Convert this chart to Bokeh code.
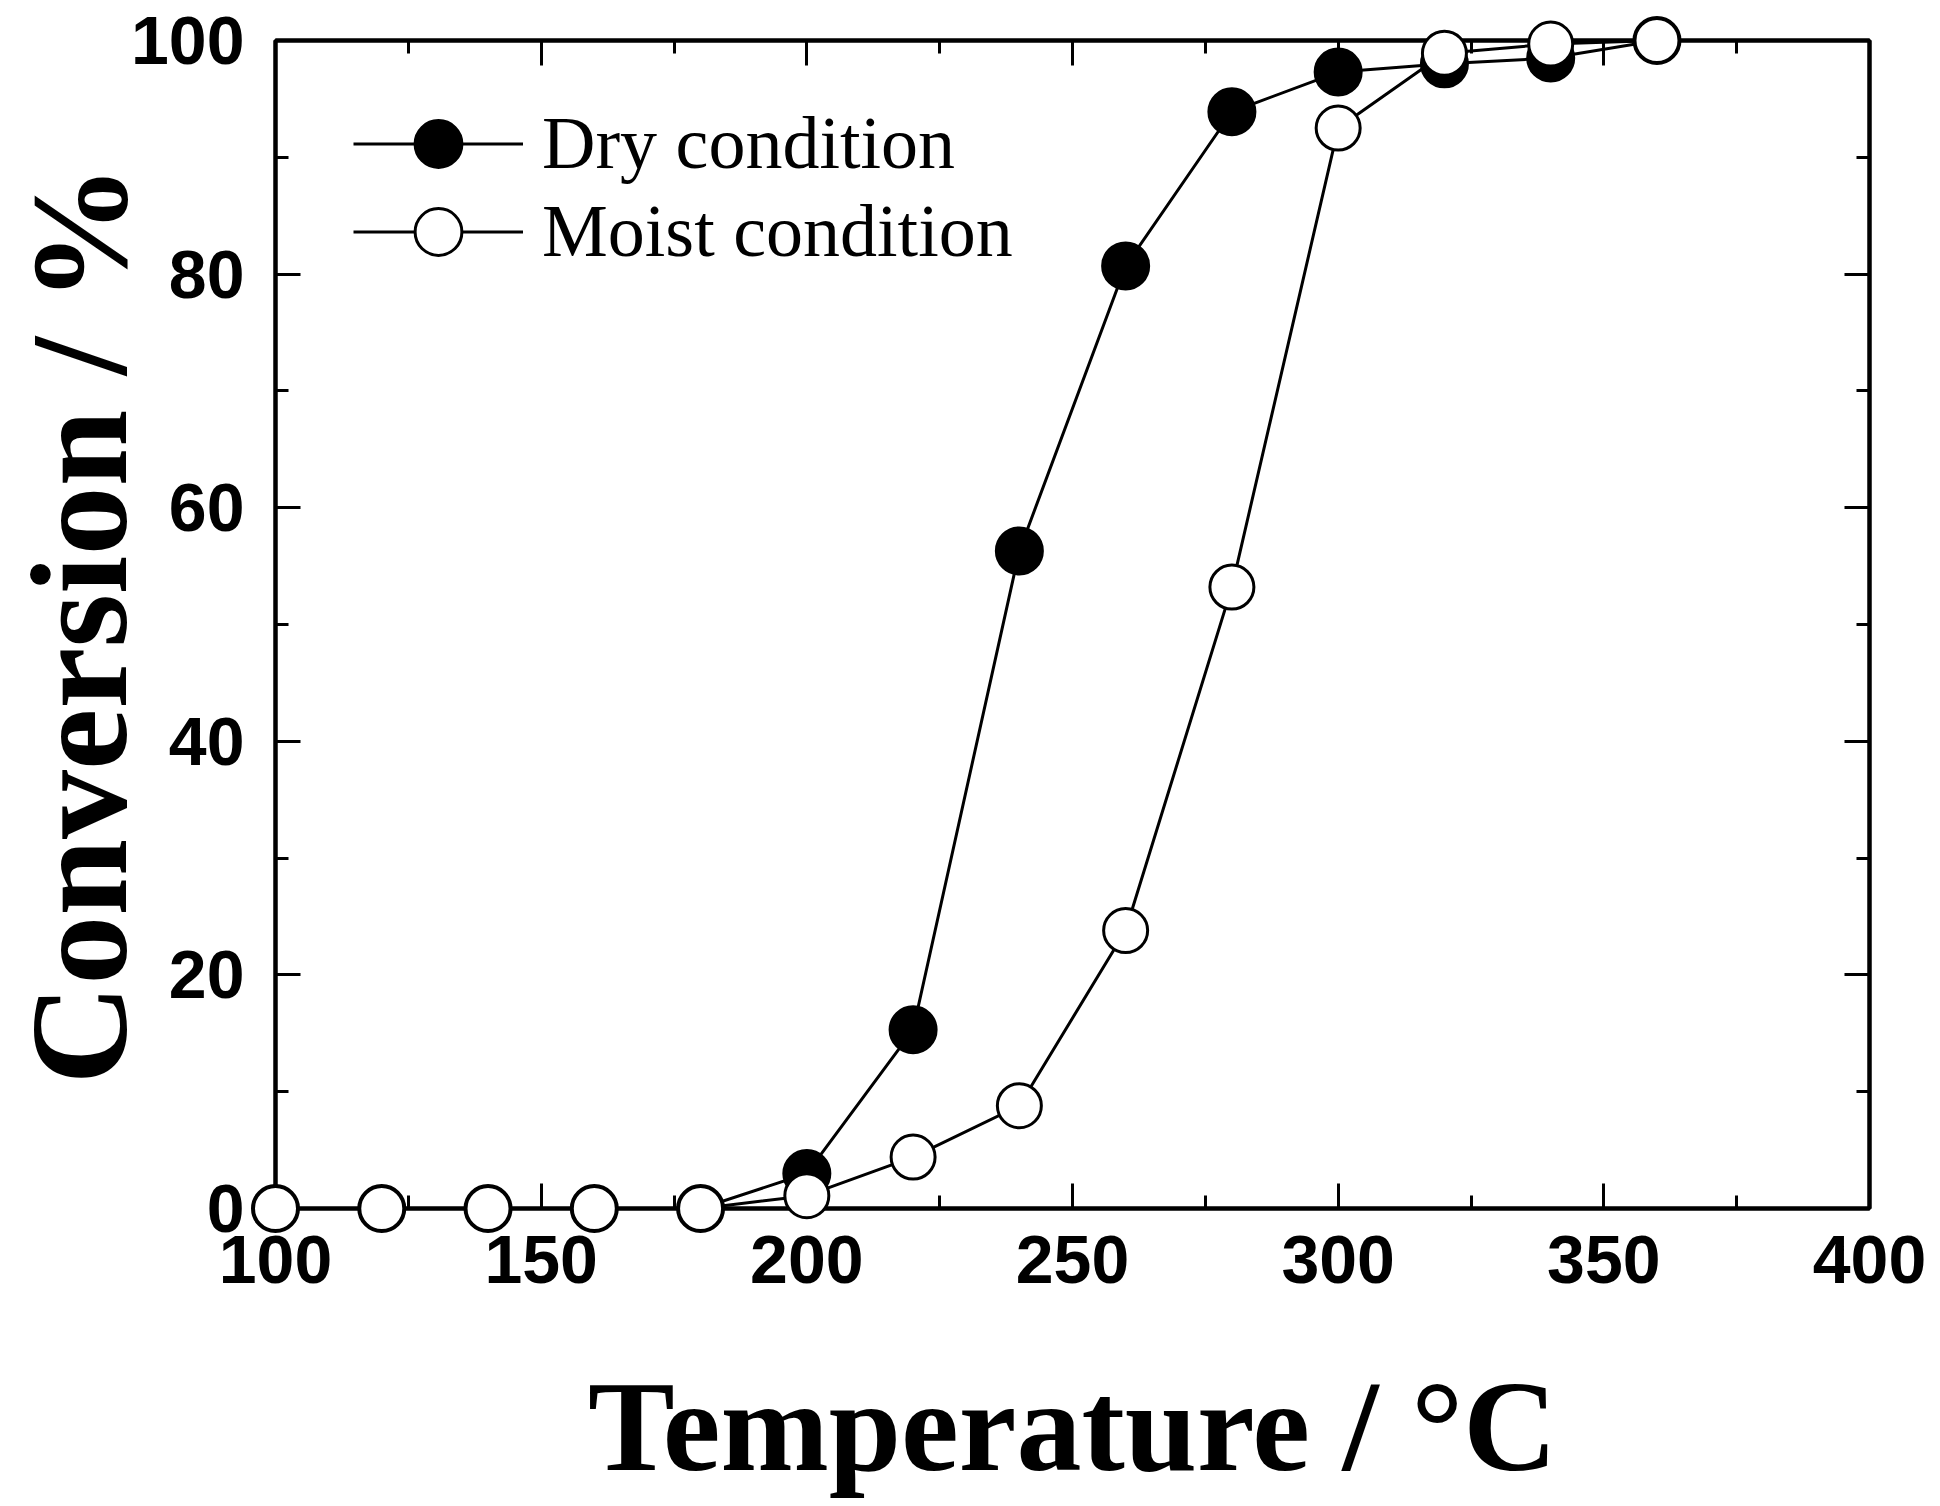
from bokeh.plotting import figure
from bokeh.models import Range1d, LinearAxis, SingleIntervalTicker, Legend, LegendItem, CustomJSTickFormatter
from bokeh.embed import file_html
from bokeh.resources import INLINE

# ---- data ----
temperature = [100, 120, 140, 160, 180, 200, 220, 240, 260, 280, 300, 320, 340, 360]
dry = [0, 0, 0, 0, 0, 3.0, 15.3, 56.3, 80.7, 93.9, 97.3, 98.0, 98.5, 100]
moist = [0, 0, 0, 0, 0, 1.1, 4.4, 8.8, 23.8, 53.2, 92.5, 98.9, 99.7, 100]
series_names = ["Dry condition", "Moist condition"]
x_label = "Temperature / \u00b0C"
y_label = "Conversion / %"

p = figure(
    frame_width=1594, frame_height=1168,
    x_range=Range1d(100, 400), y_range=Range1d(0, 100),
    output_backend="svg", toolbar_location=None,
    min_border_left=270, min_border_right=60, min_border_top=40, min_border_bottom=290,
    x_axis_label=x_label, y_axis_label=y_label,
)
p.xgrid.visible = False
p.ygrid.visible = False
p.outline_line_color = "black"
p.outline_line_width = 4
p.background_fill_color = "white"
p.border_fill_color = "white"

xt = SingleIntervalTicker(interval=50, num_minor_ticks=2)
yt = SingleIntervalTicker(interval=20, num_minor_ticks=2)

def style_axis(ax, labels=True):
    ax.axis_line_width = 4
    ax.axis_line_color = "black"
    ax.major_tick_in = 25
    ax.major_tick_out = 0
    ax.minor_tick_in = 13
    ax.minor_tick_out = 0
    ax.major_tick_line_width = 3
    ax.minor_tick_line_width = 3
    ax.major_tick_line_color = "black"
    ax.minor_tick_line_color = "black"
    if labels:
        ax.major_label_text_font = "Liberation Sans"
        ax.major_label_text_font_style = "bold"
        ax.major_label_text_font_size = "68px"
        ax.major_label_text_color = "black"
        ax.axis_label_text_font = "Liberation Serif"
        ax.axis_label_text_font_style = "bold"
        ax.axis_label_text_color = "black"
    else:
        ax.formatter = CustomJSTickFormatter(code="return ''")
        ax.major_label_standoff = 0

xa = p.xaxis[0]
xa.ticker = xt
style_axis(xa)
xa.axis_label_text_font_size = "130px"
xa.major_label_standoff = 27
xa.axis_label_standoff = 68

ya = p.yaxis[0]
ya.ticker = yt
style_axis(ya)
ya.axis_label_text_font_size = "138px"
ya.major_label_standoff = 31
ya.axis_label_standoff = -28

top_ax = LinearAxis(ticker=SingleIntervalTicker(interval=50, num_minor_ticks=2))
style_axis(top_ax, labels=False)
p.add_layout(top_ax, "above")
right_ax = LinearAxis(ticker=SingleIntervalTicker(interval=20, num_minor_ticks=2))
style_axis(right_ax, labels=False)
p.add_layout(right_ax, "right")

l1 = p.line(temperature, dry, line_color="black", line_width=3)
s1 = p.scatter(temperature, dry, size=46, marker="circle", fill_color="black",
               line_color="black", line_width=3, level="overlay")
l2 = p.line(temperature, moist, line_color="black", line_width=3)
s2 = p.scatter(temperature, moist, size=44, marker="circle", fill_color="white",
               line_color="black", line_width=3, level="overlay")

common = dict(glyph_width=170, glyph_height=117, padding=0, margin=0, label_standoff=19,
              label_text_font="Liberation Serif", label_text_font_size="74px",
              label_text_color="black", border_line_color=None, background_fill_alpha=0)
legend1 = Legend(items=[LegendItem(label=series_names[0], renderers=[l1, s1])],
                 location=(78, 1006), **common)
legend2 = Legend(items=[LegendItem(label=series_names[1], renderers=[l2, s2])],
                 location=(78, 918), **common)
p.add_layout(legend1)
p.add_layout(legend2)

open("out.html", "w").write(file_html(p, INLINE))
